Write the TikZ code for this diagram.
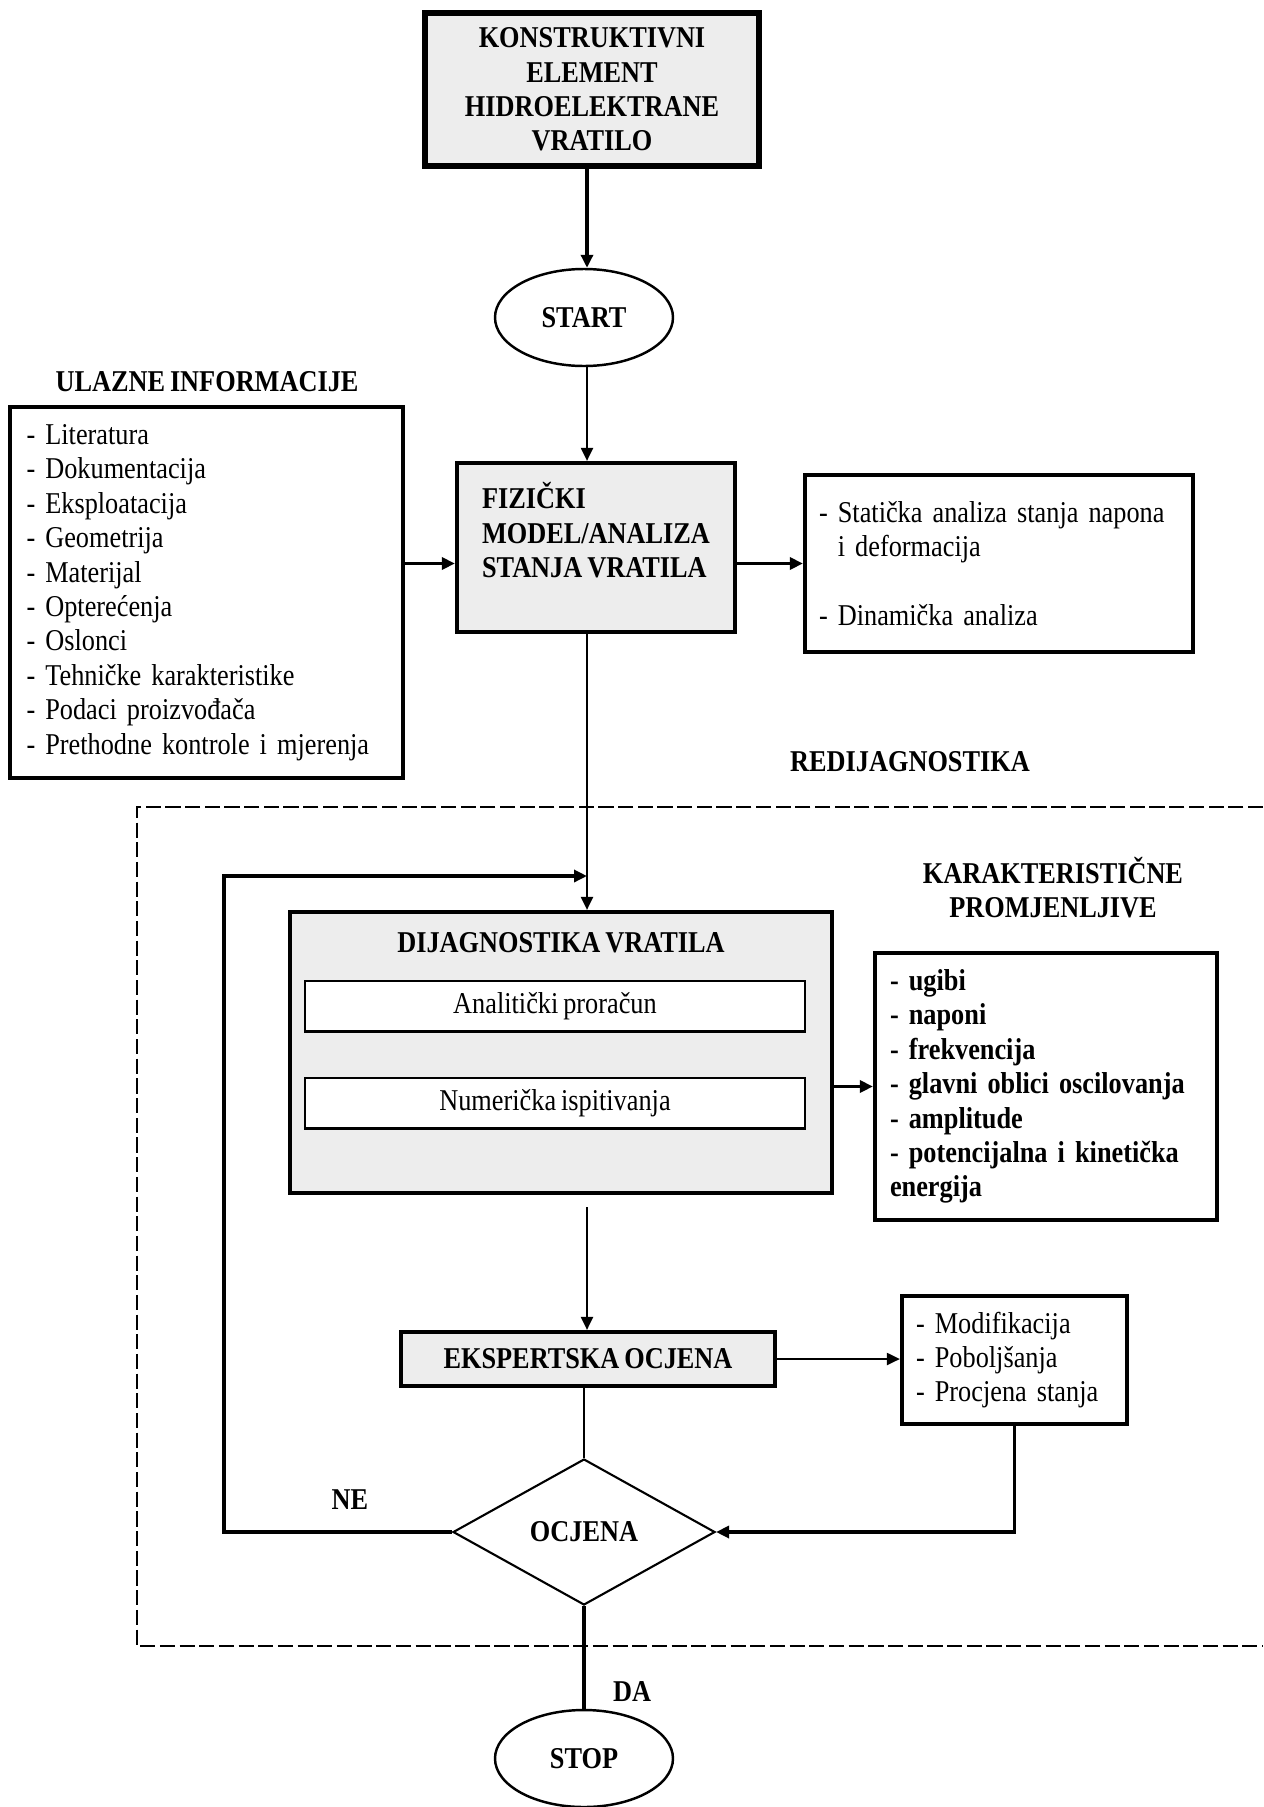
\documentclass[tikz,border=0pt]{standalone}
\usepackage{fontspec}
\setmainfont{Liberation Serif}[FakeStretch=0.87, WordSpace=0.75]
\usetikzlibrary{shapes.geometric, arrows.meta, positioning}

\begin{document}
\begin{tikzpicture}[
        every node/.style={font=\fontsize{8.6}{9.8}\selectfont}, % plain text
        >={Triangle[length=1.3mm, width=1.2mm]}, % filled arrow tips
        blok/.style={draw, line width=1.2pt, fill=black!7}, % grey process box
        lista/.style={draw, line width=1.2pt, fill=white, align=left, inner xsep=0.2cm}, % box with a list
        unutra/.style={draw, line width=0.6pt, fill=white, minimum width=5cm, minimum height=0.5cm}, % box inside the diagnosis
        naslov/.style={font=\fontsize{8.6}{9.8}\selectfont\bfseries, align=center}, % bold captions
        kraj/.style={ellipse, draw, line width=0.7pt, minimum width=1.78cm, minimum height=0.97cm, naslov}, % start and stop
        veza/.style={line width=0.6pt}, % thin connector
        jaka/.style={line width=1pt}, % thick connector
        isprekidano/.style={line width=0.6pt, dash pattern=on 4.3pt off 1.3pt} % dashed region
    ]
    \useasboundingbox (0,0) rectangle (12.63,-18.07);
    \coordinate (os) at (5.87,0); % main vertical line

    % upper part
    \node[blok, naslov, line width=1.5pt, minimum width=3.34cm, minimum height=1.53cm] (element) at (5.92,-0.895)
        {KONSTRUKTIVNI\\ELEMENT\\HIDROELEKTRANE\\VRATILO};
    \node[kraj] (start) at (5.84,-3.175) {START};
    \node[naslov] (ulaznenaslov) at (2.07,-3.82) {ULAZNE INFORMACIJE};
    \node[lista, text width=3.6cm, inner xsep=0.165cm, minimum height=3.71cm] (ulazne) at (2.065,-5.925)
        {- Literatura\\- Dokumentacija\\- Eksploatacija\\- Geometrija\\- Materijal\\- Opterećenja\\- Oslonci\\- Tehničke karakteristike\\- Podaci proizvođača\\- Prethodne kontrole i mjerenja};
    \node[blok, naslov, align=left, inner xsep=0.2cm, minimum width=2.78cm, minimum height=1.69cm] (fizicki) at (5.96,-5.475)
        {FIZIČKI\\MODEL/ANALIZA\\STANJA VRATILA\\\mbox{}};
    \node[lista, text width=3.6cm, inner xsep=0.14cm, minimum height=1.77cm] (analize) at (9.99,-5.635)
        {- Statička analiza stanja napona\\\phantom{- }i deformacija\\[9.8pt]- Dinamička analiza};

    % redijagnostika
    \draw[isprekidano] (12.63,-8.07) -- (1.37,-8.07) -- (1.37,-16.46) -- (12.63,-16.46);
    \node[naslov] (redijag) at (9.10,-7.62) {REDIJAGNOSTIKA};
    \node[naslov] (karakt) at (10.53,-8.875) {KARAKTERISTIČNE\\PROMJENLJIVE};
    \node[blok, minimum width=5.42cm, minimum height=2.81cm] (dijag) at (5.61,-10.525) {};
    \node[naslov] (dijagnaslov) at (5.61,-9.43) {DIJAGNOSTIKA VRATILA};
    \node[unutra] (analiticki) at (5.55,-10.06) {Analitički proračun};
    \node[unutra] (numericki) at (5.55,-11.03) {Numerička ispitivanja};
    \node[lista, naslov, align=left, text width=3.12cm, inner xsep=0.15cm, minimum height=2.67cm] (velicine) at (10.46,-10.865)
        {- ugibi\\- naponi\\- frekvencija\\- glavni oblici oscilovanja\\- amplitude\\- potencijalna i kinetička\\energija};
    \node[blok, naslov, minimum width=3.74cm, minimum height=0.54cm] (eksp) at (5.88,-13.59) {EKSPERTSKA OCJENA};
    \node[lista, text width=1.97cm, inner xsep=0.14cm, minimum height=1.28cm] (mjere) at (10.145,-13.60)
        {- Modifikacija\\- Poboljšanja\\- Procjena stanja};
    \node[diamond, draw, line width=0.6pt, aspect=1.79, minimum width=2.62cm, minimum height=1.46cm, inner sep=0pt, naslov] (ocjena) at (5.84,-15.32) {OCJENA};
    \node[naslov] (ne) at (3.50,-15.00) {NE};
    \node[naslov] (da) at (6.32,-16.92) {DA};
    \node[kraj] (stop) at (5.84,-17.585) {STOP};
    \coordinate (povratak) at (2.24,-8.76);

    % connectors
    \draw[jaka, ->] (element.south -| os) -- (start.north -| os);
    \draw[veza, ->] (start.south -| os) -- (fizicki.north -| os);
    \draw[jaka, ->] (ulazne.east |- analize) -- (fizicki.west |- analize);
    \draw[jaka, ->] (fizicki.east |- analize) -- (analize.west);
    \draw[veza, ->] (fizicki.south -| os) -- (dijag.north -| os);
    \draw[jaka, ->] (dijag.east |- velicine) -- (velicine.west);
    \draw[veza, ->] ([yshift=-0.12cm]dijag.south -| os) -- (eksp.north -| os);
    \draw[veza, ->] (eksp.east) -- (mjere.west |- eksp.east);
    \draw[veza] (ocjena.north |- eksp.south) -- (ocjena.north);
    \draw[jaka, ->] (mjere.south) |- (ocjena.east);
    \draw[jaka, ->] (ocjena.west) -| (povratak) -- (povratak -| os);
    \draw[jaka] (ocjena.south) -- (stop.north);
\end{tikzpicture}
\end{document}
